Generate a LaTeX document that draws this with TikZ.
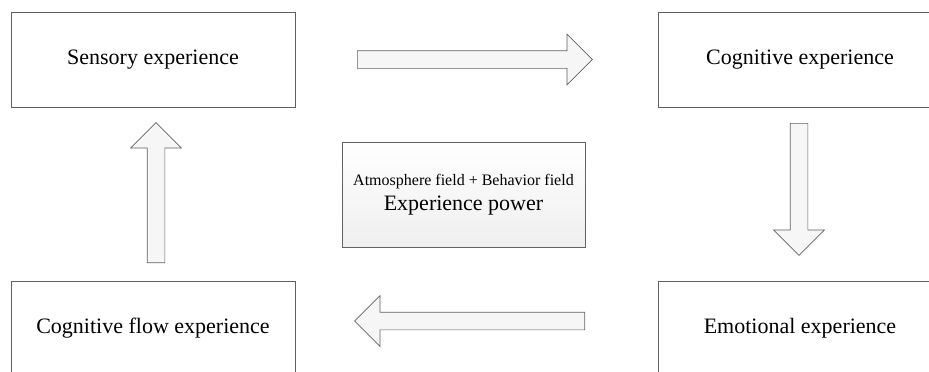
\documentclass[tikz,border=0pt]{standalone}
\usepackage{fontspec}
\setmainfont{Liberation Serif}
\usetikzlibrary{shapes.arrows}

\begin{document}
\begin{tikzpicture}[x=1pt,y=-1pt,
  stage/.style={draw=black!62, line width=0.8pt, fill=white, minimum width=284pt, minimum height=95pt, font=\fontsize{22}{26}\selectfont},
  hub/.style={draw=black!62, line width=0.8pt, top color=white, bottom color=gray!13, minimum width=243pt, minimum height=105pt, align=center, font=\fontsize{22}{25}\selectfont},
  flow/.style={single arrow, draw=black!62, line width=0.7pt, fill=gray!7, inner xsep=0pt, inner ysep=8.5pt, single arrow head extend=16.5pt, anchor=tail}]
  \useasboundingbox (0,0) rectangle (929,372);
  % the four stages
  \node[stage] (sensory) at (153,59.5) {Sensory experience};
  \node[stage] (cognitive) at (800,59.5) {Cognitive experience};
  \node[stage] (emotional) at (800,328.5) {Emotional experience};
  \node[stage] (flow) at (153,328.5) {Cognitive flow experience};
  % centre
  \node[hub] (power) at (463.5,194.5) {{\fontsize{16}{19}\selectfont Atmosphere field + Behavior field}\\Experience power};
  % block arrows, placed by their tails
  \node[flow, minimum height=235pt] (toright) at (357,59.5) {};
  \node[flow, minimum height=132pt, rotate=-90] (todown) at (799,123) {};
  \node[flow, minimum height=230pt, rotate=180] (toleft) at (585,321) {};
  \node[flow, minimum height=140pt, rotate=90] (toup) at (156,263) {};
\end{tikzpicture}
\end{document}
